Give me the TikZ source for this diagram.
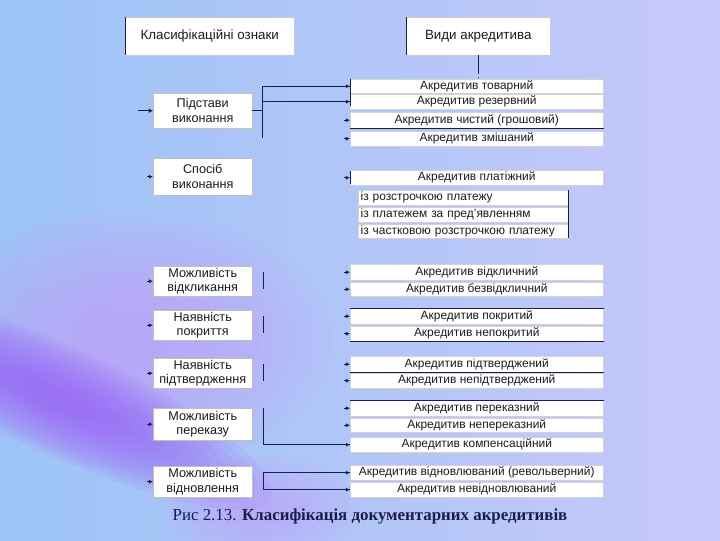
\documentclass[tikz,border=0pt]{standalone}
\usepackage{fontspec}
\setmainfont{Liberation Serif}
\setsansfont{Liberation Sans}
\usetikzlibrary{arrows.meta,positioning,calc}

\definecolor{bgblue}{RGB}{156,196,246}
\definecolor{bglav}{RGB}{200,200,250}
\definecolor{bgviolet}{RGB}{150,88,245}
\definecolor{bgpink}{RGB}{205,150,250}
\definecolor{ink}{RGB}{25,30,75}
\definecolor{boxtxt}{RGB}{28,28,28}

\tikzset{
  head/.style={fill=white, draw=gray!40, line width=0.3pt, inner sep=0pt, anchor=north west,
               font=\sffamily\fontsize{9.5}{11}\selectfont, text=boxtxt},
  kind/.style={fill=white, draw=gray!50, line width=0.3pt, inner sep=0pt, anchor=north west,
               align=center, minimum width=2.475cm,
               font=\sffamily\fontsize{9}{10.5}\selectfont, text=boxtxt},
  sort/.style={fill=white, draw=gray!35, line width=0.3pt, inner sep=0pt, anchor=north west,
               minimum width=6.325cm, font=\sffamily\fontsize{8.5}{10}\selectfont, text=boxtxt},
  variant/.style={fill=white, draw=gray!35, line width=0.3pt, inner ysep=0pt, inner xsep=0.06cm,
                  anchor=north west, text width=5.13cm, align=left,
                  font=\sffamily\fontsize{8.5}{10}\selectfont, text=boxtxt},
  conn/.style={draw=ink, line width=0.6pt},
  stub/.style={draw=ink, line width=0.6pt, -{Latex[length=3pt,width=3pt]}},
  rule/.style={draw=ink, line width=0.6pt},
  caption/.style={font=\rmfamily\fontsize{12}{14}\selectfont, text=ink}
}

\begin{document}
\begin{tikzpicture}[x=0.025cm, y=-0.025cm]
\useasboundingbox (0,0) rectangle (720,540);

% background
\begin{scope}
\clip (0,0) rectangle (720,540);
\shade[left color=bgblue, right color=bglav] (0,0) rectangle (720,540);
\foreach \k in {1,...,10}
  \fill[bgpink, opacity=0.08] (130,340) ellipse [x radius={220-18*\k}, y radius={140-11*\k}];
\foreach \k in {1,...,8}
  \fill[bgpink, opacity=0.07] (260,510) ellipse [x radius={110-11*\k}, y radius={60-6*\k}];
\foreach \k in {1,...,12}
  \fill[bgviolet, opacity=0.09, rotate around={-25:(60,400)}] (60,400) ellipse [x radius={250-17*\k}, y radius={58-4*\k}];
\end{scope}

% headers
\node[head, minimum width=4.225cm, minimum height=0.95cm] (sign) at (125,17) {Класифікаційні ознаки};
\node[head, minimum width=3.6cm, minimum height=0.95cm] (types) at (406,17) {Види акредитива};

% classification signs
\foreach \n/\t/\b/\txt in {pid/93/128/Підстави\\виконання,
                          spos/158/195/Спосіб\\виконання,
                          vidk/266/296/Можливість\\відкликання,
                          pokr/310/340/Наявність\\покриття,
                          pidt/358/388/Наявність\\підтвердження,
                          perek/408/440/Можливість\\переказу,
                          vidn/466/497/Можливість\\відновлення} {
  \node[kind, minimum height={(\b-\t)*0.025cm}] (\n) at (153,\t) {\txt};
  \draw[stub] ([xshift=-4pt]\n.west) -- (\n.west);
}

% kinds of letters of credit
\foreach \n/\t/\b/\txt in {t1/79/93/Акредитив товарний,
                          t2/94/109/Акредитив резервний,
                          t3/112/128/Акредитив чистий (грошовий),
                          t4/131/146/Акредитив змішаний,
                          t5/170/185/Акредитив платіжний,
                          t6/264/280/Акредитив відкличний,
                          t7/282/296/Акредитив безвідкличний,
                          t8/308/324/Акредитив покритий,
                          t9/326/341/Акредитив непокритий,
                          t10/356/372/Акредитив підтверджений,
                          t11/373/388/Акредитив непідтверджений,
                          t12/400/416/Акредитив переказний,
                          t13/418/432/Акредитив непереказний,
                          t14/437/452/Акредитив компенсаційний,
                          t15/465/480/Акредитив відновлюваний (револьверний),
                          t16/482/497/Акредитив невідновлюваний} {
  \node[sort, minimum height={(\b-\t)*0.025cm}] (\n) at (350,\t) {\txt};
  \draw[stub] ([xshift=-4pt]\n.west) -- (\n.west);
}

% payment variants
\foreach \n/\t/\b/\txt in {s1/190/205/із розстрочкою платежу,
                          s2/207/222/із платежем за пред’явленням,
                          s3/224/238/із частковою розстрочкою платежу} {
  \node[variant, minimum height={(\b-\t)*0.025cm}] (\n) at (358,\t) {\txt};
}

% dark edges
\draw[rule] (sign.north west) -- (sign.south west);
\draw[rule] (types.north west) -- (types.south west);
\draw[rule] (t1.north west) -- ([yshift=-3pt]t2.west);
\draw[rule] ([yshift=-1pt]t5.north west) -- ([yshift=1pt]t5.south west);
\draw[rule] (t3.south west) -- (t3.south east);
\draw[rule] (t8.north west) -- (t8.north east);
\draw[rule] (t9.south west) -- (t9.south east);
\draw[rule] (t10.south west) -- (t10.south east);
\draw[rule] (t12.north west) -- (t12.north east);
\draw[rule] (s1.north east) -- (s3.south east);

% connectors
\draw[conn] (types.south) -- ++(0,18) coordinate (vt);
\draw[conn, dotted] (vt) -- ++(0,4);
\draw[stub] ([xshift=-11pt]pid.west) -- (pid.west);
\draw[conn] (pid.east) -- ++(10,0) coordinate (pj);
\draw[conn] (pj |- t1.west) -- ($(pj)+(0,27)$);
\draw[conn] (pj |- t1.west) -- (t1.west);
\draw[conn] (pj |- t2.west) -- (t2.west);
\foreach \n in {vidk,pokr,pidt}
  \draw[conn] ($(\n.east)+(11,-9)$) -- ($(\n.east)+(11,8)$);
\draw[conn] ($(perek.east)+(11,-16)$) |- (t14.west);
\draw[conn] (t15.west) -| ($(vidn.east)+(11,0)$) |- (t16.west);

% caption
\node[caption] (cap) at (370,516) {Рис 2.13. \textbf{Класифікація документарних акредитивів}};
\end{tikzpicture}
\end{document}
